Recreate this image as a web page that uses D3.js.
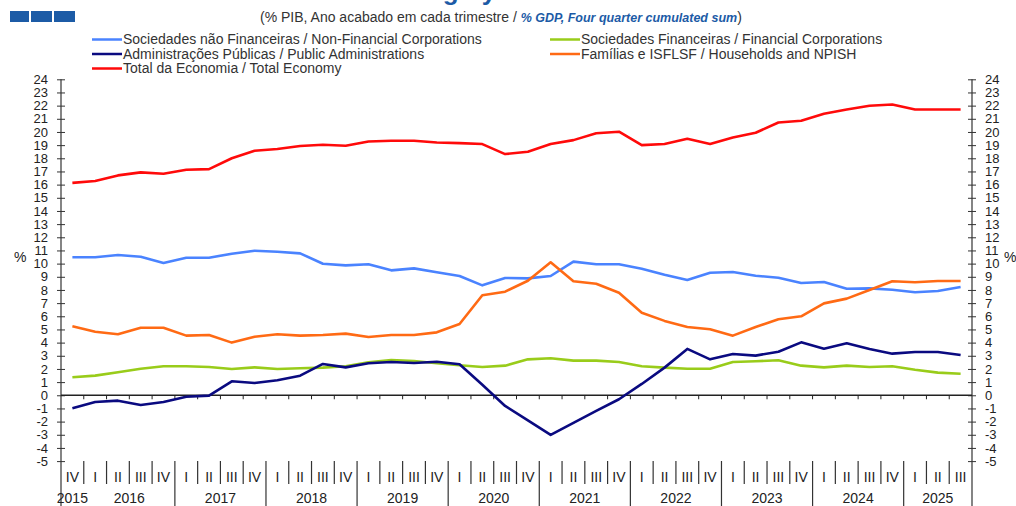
<!DOCTYPE html>
<html lang="pt">
<head>
<meta charset="UTF-8">
<title>Net lending by sector</title>
<script src="https://d3js.org/d3.v7.min.js"></script>
<style>
  body { margin: 0; padding: 0; background: #ffffff; }
  svg { display: block; font-family: "Liberation Sans", Arial, sans-serif; }
  .lbl { fill: #222; }
</style>
</head>
<body>
<svg width="1016" height="506"></svg>
<script>
  // 2015 IV ... 2025 III
  const quarterLabels = ["IV",
    "I","II","III","IV", "I","II","III","IV", "I","II","III","IV",
    "I","II","III","IV", "I","II","III","IV", "I","II","III","IV",
    "I","II","III","IV", "I","II","III","IV", "I","II","III","IV",
    "I","II","III"];
  const years = ["2015","2016","2017","2018","2019","2020","2021","2022","2023","2024","2025"];
  const quartersPerYear = [1,4,4,4,4,4,4,4,4,4,3];

  const nonFinancial = [10.48,10.48,10.65,10.52,10.05,10.45,10.45,10.75,10.98,10.9,10.78,9.99,9.87,
    9.95,9.49,9.64,9.34,9.06,8.35,8.91,8.88,9.06,10.15,9.95,9.95,9.61,9.15,8.75,9.31,9.36,9.08,
    8.93,8.53,8.6,8.09,8.12,8.02,7.82,7.92,8.22];
  const financial = [1.37,1.49,1.75,2.02,2.2,2.2,2.15,2.0,2.12,2.0,2.05,2.1,2.2,
    2.5,2.68,2.6,2.43,2.28,2.15,2.25,2.73,2.81,2.63,2.63,2.53,2.2,2.1,2.02,2.02,2.53,2.58,
    2.66,2.25,2.12,2.25,2.15,2.2,1.94,1.72,1.64];
  const publicAdmin = [-0.99,-0.51,-0.41,-0.74,-0.51,-0.11,-0.03,1.06,0.93,1.14,1.49,2.38,2.12,
    2.43,2.53,2.45,2.55,2.35,0.8,-0.81,-1.9,-3.01,-2.1,-1.19,-0.3,0.86,2.1,3.52,2.73,3.14,3.01,
    3.31,4.02,3.54,3.95,3.52,3.16,3.29,3.29,3.06];
  const households = [5.24,4.83,4.63,5.13,5.13,4.53,4.58,4.0,4.45,4.63,4.53,4.58,4.68,
    4.43,4.58,4.58,4.78,5.41,7.6,7.87,8.7,10.1,8.66,8.47,7.79,6.27,5.65,5.19,5.01,4.53,5.19,
    5.77,6.0,6.98,7.34,8.0,8.66,8.58,8.68,8.68];
  const totalEconomy = [16.13,16.27,16.7,16.93,16.83,17.13,17.18,18.0,18.57,18.7,18.93,19.03,18.95,
    19.28,19.33,19.33,19.2,19.15,19.08,18.32,18.5,19.08,19.38,19.9,20.02,19.0,19.08,19.48,19.08,
    19.58,19.94,20.72,20.85,21.38,21.71,21.99,22.09,21.71,21.71,21.71];

  const seriesNames = [
    "Sociedades não Financeiras / Non-Financial Corporations",
    "Sociedades Financeiras / Financial Corporations",
    "Administrações Públicas / Public Administrations",
    "Famílias e ISFLSF / Households and NPISH",
    "Total da Economia / Total Economy"];
  const seriesColors = ["#4a83ff", "#99cc1a", "#0a0a80", "#ff6a14", "#ff0a0a"];
  const seriesValues = [nonFinancial, financial, publicAdmin, households, totalEconomy];

  const yTicks = d3.range(-5, 25);

  const svg = d3.select("svg");
  const plotLeft = 61, plotRight = 972, plotTop = 79.3, plotBottom = 461.1;

  const x = d3.scaleBand().domain(d3.range(quarterLabels.length)).range([plotLeft, plotRight]);
  const y = d3.scaleLinear().domain([-5, 24]).range([plotBottom, plotTop]);

  // title, mostly cut off by the top edge
  svg.append("text").attr("x", 317).attr("y", -0.5)
    .attr("fill", "#1c5ba6").attr("font-weight", "bold").attr("font-size", 26)
    .text("Net lending by sector");

  // squares top-left
  [[10, 19], [31, 21], [54, 21]].forEach(function (s) {
    svg.append("rect").attr("x", s[0]).attr("y", 11).attr("width", s[1]).attr("height", 11)
      .attr("fill", "#1c5ba6");
  });

  // subtitle
  const sub = svg.append("text").attr("x", 260).attr("y", 22).attr("font-size", 14).attr("fill", "#333");
  sub.append("tspan").text("(% PIB, Ano acabado em cada trimestre / ");
  sub.append("tspan").attr("fill", "#1c5ba6").attr("font-weight", "bold").attr("font-style", "italic")
    .attr("font-size", 12.5).text("% GDP, Four quarter cumulated sum");
  sub.append("tspan").text(")");

  // legend
  const legendPos = [[92, 39.5], [550, 39.5], [92, 54], [550, 54], [92, 68.5]];
  seriesNames.forEach(function (name, i) {
    const g = svg.append("g").attr("transform", "translate(" + legendPos[i][0] + "," + legendPos[i][1] + ")");
    g.append("line").attr("x1", 0).attr("x2", 30).attr("stroke", seriesColors[i]).attr("stroke-width", 2.5);
    g.append("text").attr("x", 31).attr("dy", "0.35em").attr("font-size", 14).attr("fill", "#333").text(name);
  });

  // y axes
  const fmt = function (d) { return String(d); };
  const gl = svg.append("g").attr("transform", "translate(" + plotLeft + ",0)")
    .call(d3.axisLeft(y).tickValues(yTicks).tickFormat(fmt).tickSize(4).tickPadding(9));
  gl.selectAll(".tick line").attr("x2", -4).attr("x1", 4).attr("stroke", "#333");
  gl.select(".domain").remove();
  const gr = svg.append("g").attr("transform", "translate(" + plotRight + ",0)")
    .call(d3.axisRight(y).tickValues(yTicks).tickFormat(fmt).tickSize(4).tickPadding(9));
  gr.selectAll(".tick line").attr("x1", -4).attr("x2", 4).attr("stroke", "#333");
  gr.select(".domain").remove();
  svg.selectAll(".tick text").attr("fill", "#222").attr("font-size", 13)
    .attr("font-family", "'Liberation Sans', Arial, sans-serif");

  // vertical axis lines extend to bottom
  [plotLeft, plotRight].forEach(function (xx) {
    svg.append("line").attr("x1", xx).attr("x2", xx).attr("y1", plotTop).attr("y2", 506)
      .attr("stroke", "#333").attr("stroke-width", 1.2);
  });

  svg.append("text").attr("class", "lbl").attr("x", 14).attr("y", 262).attr("font-size", 14).text("%");
  svg.append("text").attr("class", "lbl").attr("x", 1004).attr("y", 262).attr("font-size", 14).text("%");

  // zero line and quarter ticks
  svg.append("line").attr("x1", plotLeft).attr("x2", plotRight).attr("y1", y(0)).attr("y2", y(0))
    .attr("stroke", "#222").attr("stroke-width", 1.3);
  for (let i = 1; i < quarterLabels.length; i++) {
    svg.append("line").attr("x1", x(i)).attr("x2", x(i)).attr("y1", y(0)).attr("y2", y(0) + 4)
      .attr("stroke", "#222");
  }

  // category band: quarters and years
  let start = 0;
  const yearStarts = [];
  quartersPerYear.forEach(function (n) { yearStarts.push(start); start += n; });
  for (let i = 1; i < quarterLabels.length; i++) {
    const longLine = yearStarts.indexOf(i) > 1;
    svg.append("line").attr("x1", x(i)).attr("x2", x(i))
      .attr("y1", 461).attr("y2", longLine ? 506 : 484)
      .attr("stroke", "#333").attr("stroke-width", 1.2);
  }
  svg.append("g").selectAll("text").data(quarterLabels).join("text")
    .attr("x", function (d, i) { return x(i) + x.bandwidth() / 2; })
    .attr("y", 482).attr("text-anchor", "middle").attr("font-size", 14).attr("fill", "#222")
    .text(function (d) { return d; });
  svg.append("g").selectAll("text").data(years).join("text")
    .attr("x", function (d, k) {
      return (x(yearStarts[k]) + x(yearStarts[k] + quartersPerYear[k] - 1) + x.bandwidth()) / 2;
    })
    .attr("y", 503).attr("text-anchor", "middle").attr("font-size", 14).attr("fill", "#222")
    .text(function (d) { return d; });

  // lines
  const line = d3.line()
    .x(function (d, i) { return x(i) + x.bandwidth() / 2; })
    .y(function (d) { return y(d); });
  seriesValues.forEach(function (vals, i) {
    svg.append("path").datum(vals).attr("d", line).attr("fill", "none")
      .attr("stroke", seriesColors[i]).attr("stroke-width", 2.6).attr("stroke-linejoin", "round");
  });
</script>
</body>
</html>
